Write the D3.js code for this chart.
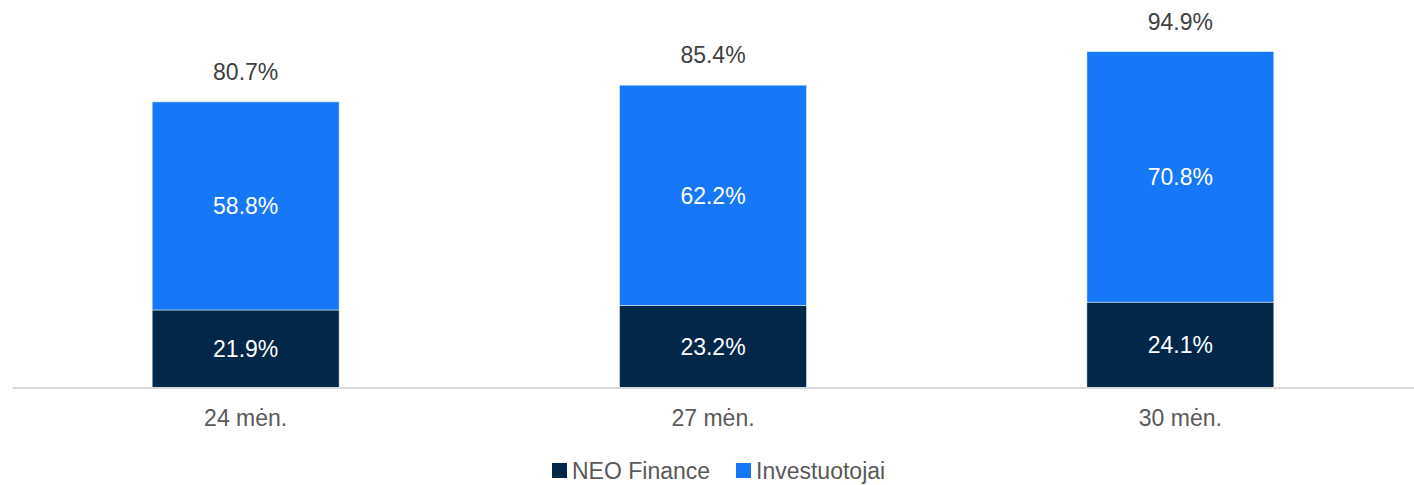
<!DOCTYPE html>
<html>
<head>
<meta charset="utf-8">
<script src="https://cdn.jsdelivr.net/npm/d3@7"></script>
<style>
  body { margin: 0; background: #fff; }
  svg text { font-family: "Liberation Sans", Arial, sans-serif; }
</style>
</head>
<body>
<svg id="vis" width="1414" height="485"></svg>
<script>
// data
let categories = ["24 mėn.", "27 mėn.", "30 mėn."];
let neoFinance = [21.9, 23.2, 24.1];
let investuotojai = [58.8, 62.2, 70.8];
let totals = [80.7, 85.4, 94.9];
let seriesNames = ["NEO Finance", "Investuotojai"];
let seriesColors = ["#012848", "#1677f8"];

let svg = d3.select("#vis");
let width = 1414, height = 485;

let x = d3.scaleBand()
    .domain(categories)
    .range([12, 1414])
    .paddingInner(0.6)
    .paddingOuter(0.3);

let y = d3.scaleLinear()
    .domain([0, 100])
    .range([387.5, 33.5]);

let rows = categories.map(function (c, i) {
    return {cat: c, neo: neoFinance[i], inv: investuotojai[i]};
});

let stack = d3.stack().keys(["neo", "inv"]);
let layers = stack(rows);

let g = svg.append("g");

layers.forEach(function (layer, li) {
    g.selectAll(".bar-" + li)
        .data(layer)
        .enter()
        .append("rect")
        .attr("class", "bar-" + li)
        .attr("x", d => x(d.data.cat))
        .attr("width", x.bandwidth())
        .attr("y", d => y(d[1]))
        .attr("height", d => y(d[0]) - y(d[1]))
        .attr("fill", seriesColors[li])
        .attr("stroke", "rgba(255,255,255,0.6)")
        .attr("stroke-width", 0.8);

    g.selectAll(".lbl-" + li)
        .data(layer)
        .enter()
        .append("text")
        .attr("x", d => x(d.data.cat) + x.bandwidth() / 2)
        .attr("y", d => (y(d[0]) + y(d[1])) / 2)
        .attr("dy", "0.36em")
        .attr("text-anchor", "middle")
        .attr("font-size", "23px")
        .attr("fill", "#ffffff")
        .text(d => (d[1] - d[0]).toFixed(1) + "%");
});

// totals above bars
g.selectAll(".total")
    .data(categories)
    .enter()
    .append("text")
    .attr("x", (d, i) => x(d) + x.bandwidth() / 2)
    .attr("y", (d, i) => y(totals[i]) - 30)
    .attr("dy", "0.36em")
    .attr("text-anchor", "middle")
    .attr("font-size", "23px")
    .attr("fill", "#404040")
    .text((d, i) => totals[i].toFixed(1) + "%");

// x axis
let axis = svg.append("g")
    .attr("transform", "translate(0," + y(0) + ")")
    .call(d3.axisBottom(x).tickSize(0).tickPadding(22));
axis.select(".domain")
    .attr("stroke", "#d9d9d9")
    .attr("stroke-width", 2);
axis.selectAll("text")
    .attr("font-family", "Liberation Sans, Arial, sans-serif")
    .attr("font-size", "23px")
    .attr("fill", "#595959");

// legend
let legendX = [552, 736];
let legend = svg.append("g");
seriesNames.forEach(function (name, i) {
    legend.append("rect")
        .attr("x", legendX[i])
        .attr("y", 463)
        .attr("width", 15)
        .attr("height", 15)
        .attr("fill", seriesColors[i]);
    legend.append("text")
        .attr("x", legendX[i] + 20)
        .attr("y", 471)
        .attr("dy", "0.36em")
        .attr("font-size", "23px")
        .attr("fill", "#595959")
        .text(name);
});
</script>
</body>
</html>
